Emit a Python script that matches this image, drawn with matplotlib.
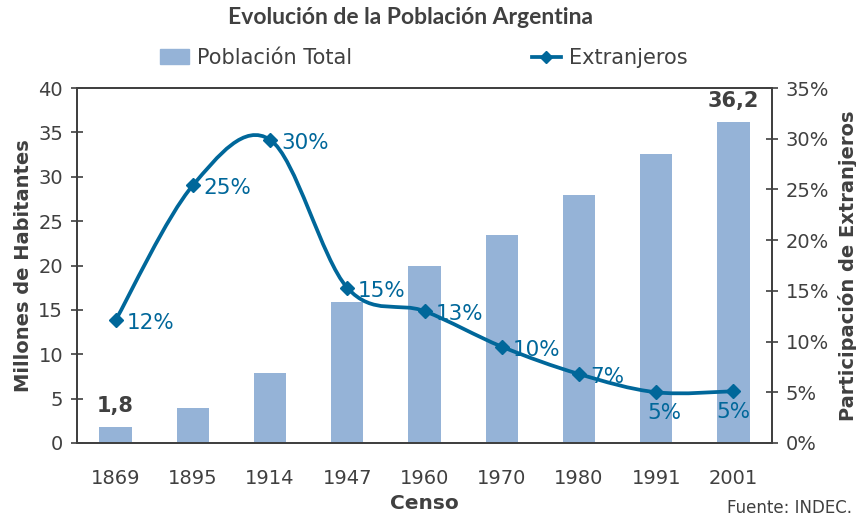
import numpy as np
import matplotlib.pyplot as plt
from matplotlib.path import Path
from matplotlib.patches import PathPatch, Patch
from matplotlib.lines import Line2D

# data
censos = ["1869", "1895", "1914", "1947", "1960", "1970", "1980", "1991", "2001"]
poblacion = [1.8, 4.0, 7.9, 15.9, 20.0, 23.4, 27.9, 32.6, 36.2]   # millones
extranjeros = [12.1, 25.4, 29.9, 15.3, 13.0, 9.5, 6.8, 5.0, 5.1]  # %
ext_labels = ["12%", "25%", "30%", "15%", "13%", "10%", "7%", "5%", "5%"]

bar_col = "#95B3D7"
line_col = "#00679A"
txt_col = "#404040"

fig = plt.figure(figsize=(8.56, 5.17), dpi=100)
ax = fig.add_axes([77/856, 1-443/517, 695/856, 355/517])
ax2 = ax.twinx()

x = np.arange(len(censos))
ax.bar(x, poblacion, width=0.42, color=bar_col, zorder=1)
ax.set_xlim(-0.5, len(censos)-0.5)
ax.set_ylim(0, 40)
ax.set_yticks(range(0, 41, 5))
ax.set_xticks(x)
ax.set_xticklabels(censos)

# labels on first and last bar
for i in (0, len(censos)-1):
    ax.text(x[i], poblacion[i] + 1.2, f"{poblacion[i]:.1f}".replace(".", ","),
            ha="center", va="bottom", fontsize=15, fontweight="bold", color=txt_col)

# smoothed line (catmull-rom -> bezier, like excel)
pts = np.column_stack([x, extranjeros]).astype(float)
ext = np.vstack([pts[0], pts, pts[-1]])
verts = [tuple(pts[0])]
codes = [Path.MOVETO]
for i in range(len(pts)-1):
    p0, p1, p2, p3 = ext[i], ext[i+1], ext[i+2], ext[i+3]
    c1 = p1 + (p2 - p0) / 6
    c2 = p2 - (p3 - p1) / 6
    verts += [tuple(c1), tuple(c2), tuple(p2)]
    codes += [Path.CURVE4] * 3
ax2.add_patch(PathPatch(Path(verts, codes), fill=False, edgecolor=line_col, lw=2.7, zorder=3))
ax2.plot(x, extranjeros, ls="none", marker="D", ms=7, color=line_col, zorder=4)
ax2.set_ylim(0, 35)
ax2.set_yticks(range(0, 36, 5))
ax2.set_yticklabels([f"{v}%" for v in range(0, 36, 5)])

for i, (v, lab) in enumerate(zip(extranjeros, ext_labels)):
    if i >= 7:
        ax2.text(x[i] + (0.11 if i == 7 else 0.0), v - 1.1, lab, ha="center", va="top",
                 fontsize=15.5, color=line_col)
    else:
        ax2.text(x[i] + 0.14, v - 0.3, lab, ha="left", va="center",
                 fontsize=15.5, color=line_col)

# axes styling
for a in (ax, ax2):
    for s in a.spines.values():
        s.set_color(txt_col)
        s.set_linewidth(1.3)
ax.tick_params(axis="y", direction="inout", length=8, width=1.2, colors=txt_col,
               labelsize=14, pad=6)
ax2.tick_params(axis="y", direction="inout", length=8, width=1.2, colors=txt_col,
                labelsize=14, pad=6)
ax.tick_params(axis="x", length=0, labelsize=14, colors=txt_col, pad=19)

ax.set_ylabel("Millones de Habitantes", fontsize=14, fontweight="bold", color=txt_col, labelpad=4)
ax2.set_ylabel("Participación de Extranjeros", fontsize=14, fontweight="bold", color=txt_col, labelpad=6)
ax.set_xlabel("Censo", fontsize=14.5, fontweight="bold", color=txt_col, labelpad=4)

fig.text(0.479, 1-18/517, "Evolución de la Población Argentina", ha="center", va="center",
         fontsize=16.5, fontweight="bold", family="Lato", color=txt_col)
fig.text(852/856, 1-508/517, "Fuente: INDEC.", ha="right", va="center", fontsize=12, color=txt_col)

handles = [Patch(color=bar_col),
           Line2D([], [], color=line_col, lw=2.7, marker="D", ms=6.5)]
fig.legend(handles, ["Población Total", "Extranjeros"], loc="center",
           bbox_to_anchor=(0.495, 1-58/517), ncol=2, frameon=False, fontsize=15,
           handlelength=1.4, handletextpad=0.4, columnspacing=8.6, labelcolor=txt_col)

fig.savefig("out.png", dpi=100)
